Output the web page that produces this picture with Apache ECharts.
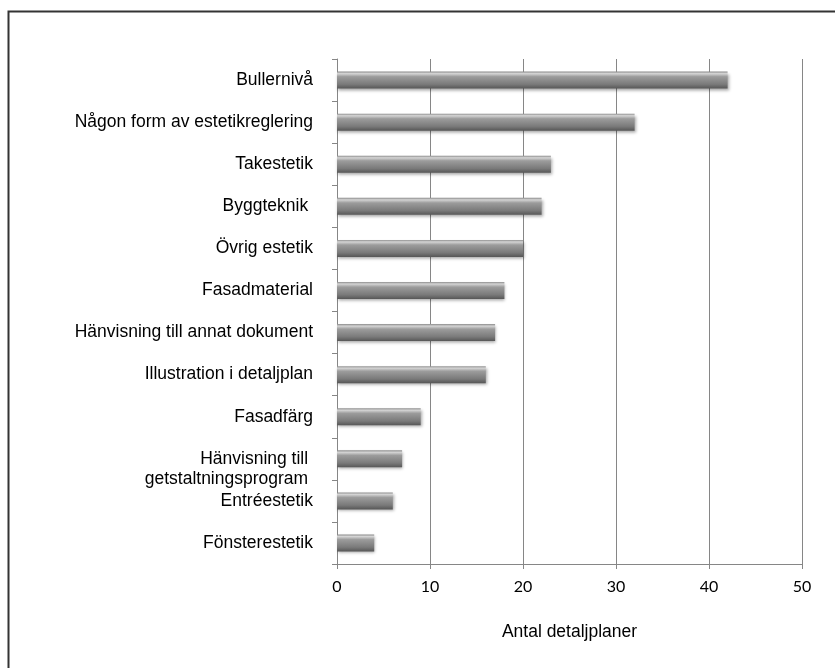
<!DOCTYPE html>
<html>
<head>
<meta charset="utf-8">
<script src="https://cdn.jsdelivr.net/npm/echarts@6/dist/echarts.min.js"></script>
<style>html,body{margin:0;padding:0;background:#fff}#c{width:835px;height:668px}</style>
</head>
<body>
<div id="c"></div>
<script>
const categories = [
  'Bullernivå',
  'Någon form av estetikreglering',
  'Takestetik',
  'Byggteknik ',
  'Övrig estetik',
  'Fasadmaterial',
  'Hänvisning till annat dokument',
  'Illustration i detaljplan',
  'Fasadfärg',
  'Hänvisning till \ngetstaltningsprogram ',
  'Entréestetik',
  'Fönsterestetik'
];
const values = [42, 32, 23, 22, 20, 18, 17, 16, 9, 7, 6, 4];
const xTicks = [0, 10, 20, 30, 40, 50];
const xTitle = 'Antal detaljplaner';

const chart = echarts.init(document.getElementById('c'), null, {renderer: 'canvas'});
chart.setOption({
  animation: false,
  backgroundColor: '#fff',
  grid: {left: 337, right: 33, top: 59, bottom: 104, containLabel: false},
  graphic: [
    {type: 'polyline', shape: {points: [[8.5, 668], [8.5, 11.5], [835, 11.5]]},
     style: {stroke: '#333', lineWidth: 2, fill: null}, silent: true}
  ],
  xAxis: {
    type: 'value',
    min: xTicks[0], max: xTicks[xTicks.length - 1], interval: 10,
    name: xTitle, nameLocation: 'middle', nameGap: 59,
    nameTextStyle: {fontFamily: 'Liberation Sans', fontSize: 17.5, color: '#000'},
    axisLine: {show: true, lineStyle: {color: '#868686', width: 1}},
    axisTick: {show: true, length: 5, lineStyle: {color: '#868686'}},
    axisLabel: {fontFamily: 'Lato', fontSize: 16, color: '#000', margin: 15},
    splitLine: {show: true, lineStyle: {color: '#868686', width: 1}}
  },
  yAxis: {
    type: 'category',
    inverse: true,
    data: categories,
    axisLine: {show: true, lineStyle: {color: '#868686', width: 1}},
    axisTick: {show: true, length: 5, lineStyle: {color: '#868686'}},
    axisLabel: {
      fontFamily: 'Liberation Sans', fontSize: 17.5, color: '#000', margin: 24, lineHeight: 20,
      formatter: v => v.indexOf('\n') >= 0 ? ' \n' + v : v
    },
    splitLine: {show: false}
  },
  series: [{
    type: 'bar',
    data: values,
    barWidth: 17,
    itemStyle: {
      color: new echarts.graphic.LinearGradient(0, 0, 0, 1, [
        {offset: 0, color: '#8c8c8c'},
        {offset: 0.12, color: '#d4d4d4'},
        {offset: 0.3, color: '#9c9c9c'},
        {offset: 0.75, color: '#7a7a7a'},
        {offset: 1, color: '#575757'}
      ]),
      shadowColor: 'rgba(0,0,0,0.35)',
      shadowBlur: 3,
      shadowOffsetX: 1,
      shadowOffsetY: 2
    }
  }]
});
</script>
</body>
</html>
